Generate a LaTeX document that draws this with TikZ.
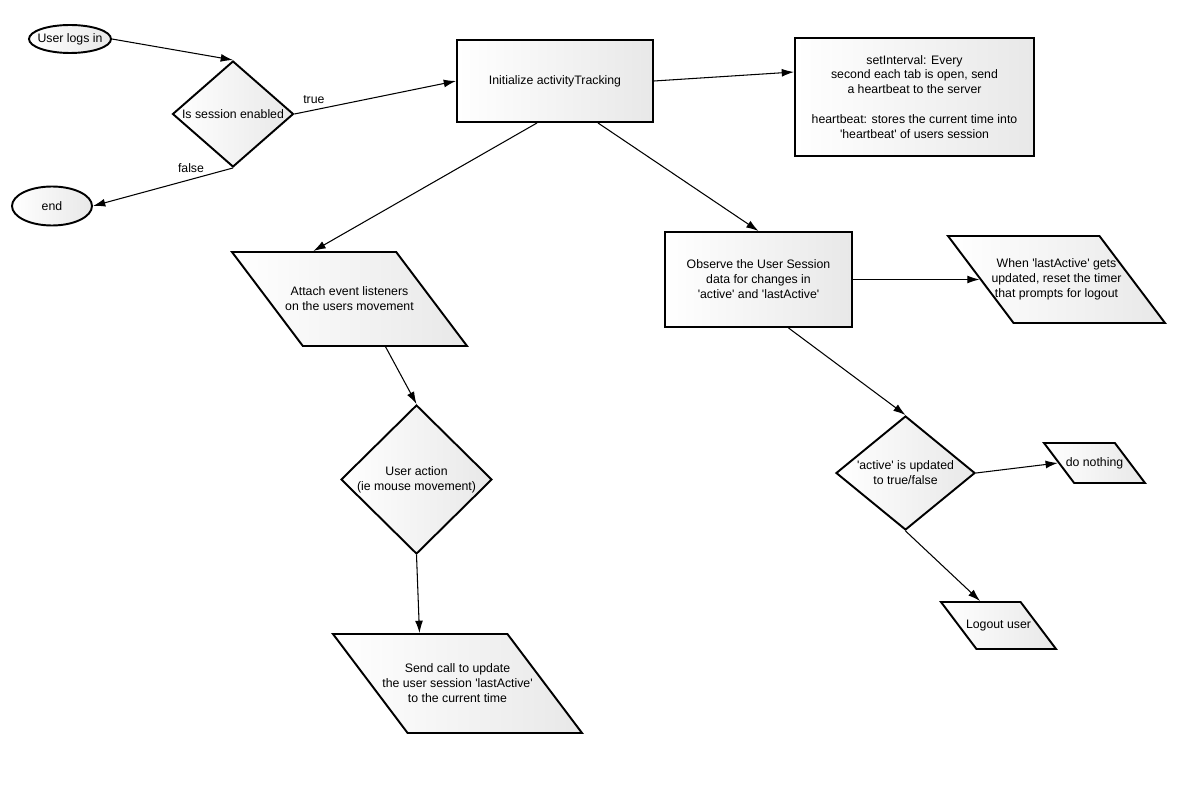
\documentclass[tikz,border=0pt]{standalone}
\usepackage{fontspec}
\setmainfont{Liberation Sans}
\usepackage{tikz}
\usetikzlibrary{arrows.meta,shapes.geometric,calc}
\usepackage{xcolor}
\definecolor{fcgray}{RGB}{232,232,232}
\tikzstyle{arrow} = [line width=0.6pt,-{Latex[length=7pt,width=4.5pt]}]
\tikzstyle{fctext} = [font=\fontsize{7}{8.5}\selectfont, align=center]
\tikzstyle{shadebox} = [fctext, draw, line width=1.1pt, left color=white, right color=fcgray, inner sep=0pt]
\tikzstyle{procbox} = [shadebox, rectangle]
\tikzstyle{termbox} = [shadebox, ellipse, inner xsep=-3pt]
\tikzstyle{decbox} = [shadebox, diamond]
\tikzstyle{iobox} = [shadebox, trapezium, trapezium left angle=127, trapezium right angle=53, trapezium stretches body]

\begin{document}
\begin{tikzpicture}
    \useasboundingbox (0,0) rectangle (24,-16);

    % Start and end
    \node[termbox, minimum width=1.64cm, minimum height=0.56cm] (login) at (1.40,-0.78) {User logs in};
    \node[termbox, minimum width=1.60cm, minimum height=0.78cm] (ending) at (1.04,-4.12) {end};

    % Decisions
    \node[decbox, aspect=1.15, minimum width=2.42cm, minimum height=2.12cm] (sess) at (4.66,-2.28) {Is session enabled};
    \node[decbox, minimum width=3.02cm, minimum height=2.98cm] (act) at (8.33,-9.59) {User action\\(ie mouse movement)};
    \node[decbox, aspect=1.2, minimum width=2.78cm, minimum height=2.28cm] (upd) at (18.11,-9.46) {\textquotesingle active\textquotesingle{} is updated\\to true/false};

    % Processes
    \node[procbox, minimum width=3.92cm, minimum height=1.64cm] (init) at (11.10,-1.62) {Initialize activityTracking};
    \node[procbox, minimum width=4.78cm, minimum height=2.36cm] (beat) at (18.29,-1.94) {setInterval: Every\\second each tab is open, send\\a heartbeat to the server\\[8.5pt]heartbeat: stores the current time into\\\textquotesingle heartbeat\textquotesingle{} of users session};
    \node[procbox, minimum width=3.74cm, minimum height=1.90cm] (obs) at (15.17,-5.59) {Observe the User Session\\data for changes in\\\textquotesingle active\textquotesingle{} and \textquotesingle lastActive\textquotesingle};

    % Input / output
    \node[iobox, minimum width=4.70cm, label={[fctext]center:{Attach event listeners\\on the users movement}}] (attach) at (6.99,-5.98) {\rule{0pt}{1.88cm}};
    \node[iobox, minimum width=4.34cm, label={[fctext]center:{When \textquotesingle lastActive\textquotesingle{} gets\\updated, reset the timer\\that prompts for logout}}] (reset) at (21.13,-5.59) {\rule{0pt}{1.74cm}};
    \node[iobox, minimum width=4.98cm, label={[fctext]center:{Send call to update\\the user session \textquotesingle lastActive\textquotesingle\\to the current time}}] (send) at (9.15,-13.67) {\rule{0pt}{1.98cm}};
    \node[iobox, minimum width=2.02cm, label={[fctext]center:{do nothing}}] (nothing) at (21.89,-9.26) {\rule{0pt}{0.80cm}};
    \node[iobox, minimum width=2.30cm, label={[fctext]center:{Logout user}}] (logout) at (19.97,-12.51) {\rule{0pt}{0.94cm}};

    % Connectors
    \draw[arrow] (login.east) -- (sess.north);
    \draw[arrow] (sess.east) -- node[fctext, above, pos=0.12] {true} (init.west);
    \draw[arrow] (sess.south) -- node[fctext, above, pos=0.3] {false} (ending.east);
    \draw[arrow] (init.east) -- ($(beat.west)+(0,0.5)$);
    \draw[arrow] ($(init.south)+(-0.36,0)$) -- (attach.top side);
    \draw[arrow] ($(init.south)+(0.86,0)$) -- (obs.north);
    \draw[arrow] (obs.east) -- (reset.left side);
    \draw[arrow] (attach.bottom side) -- (act.north);
    \draw[arrow] (act.south) -- (send.top side);
    \draw[arrow] ($(obs.south)+(0.6,0)$) -- (upd.north);
    \draw[arrow] (upd.east) -- (nothing.left side);
    \draw[arrow] (upd.south) -- (logout.top side);
\end{tikzpicture}
\end{document}
